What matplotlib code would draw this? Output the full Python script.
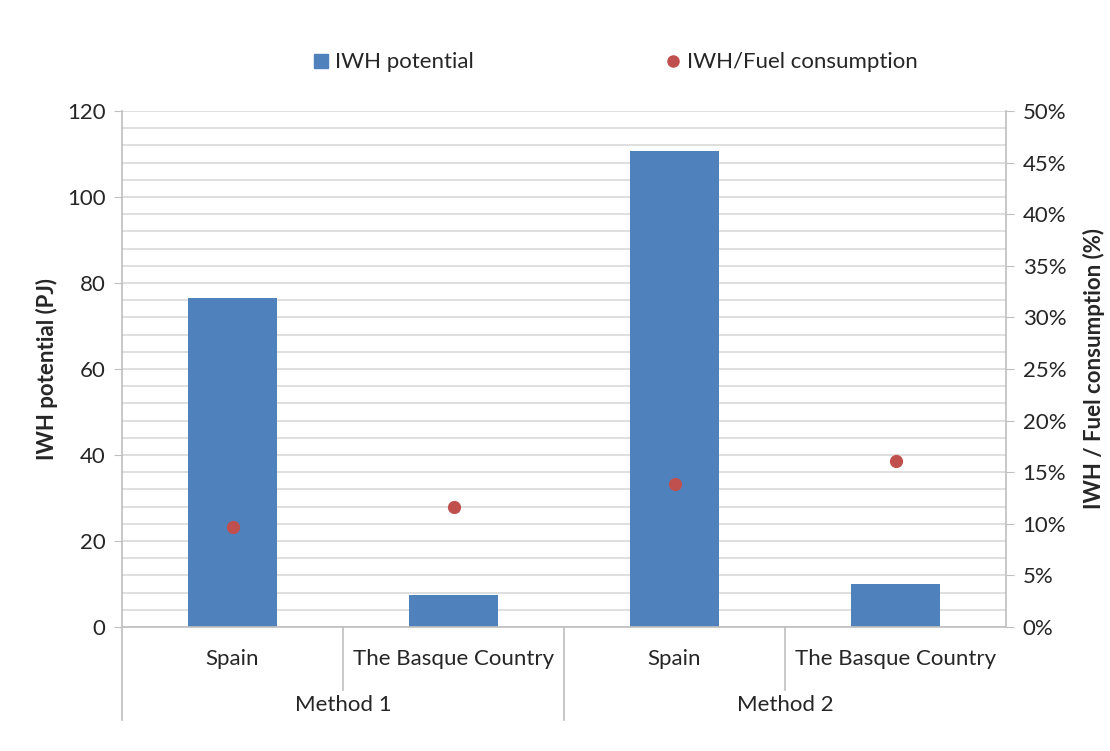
import matplotlib
matplotlib.use("Agg")
import matplotlib.pyplot as plt
import numpy as np
from matplotlib.lines import Line2D
from matplotlib.ticker import PercentFormatter
import matplotlib.transforms as mtransforms

categories = ["Spain", "The Basque Country", "Spain", "The Basque Country"]
groups = ["Method 1", "Method 2"]
iwh_potential = [76.4, 7.4, 110.7, 10.0]          # PJ
iwh_fuel_ratio = [0.097, 0.116, 0.139, 0.161]      # fraction

plt.rcParams['font.family'] = ['Lato', 'DejaVu Sans']
TXT = "#262626"
GRID = "#D9D9D9"
AX = "#BFBFBF"
BAR = "#4F81BD"
DOT = "#C0504D"
FS = 16

fig = plt.figure(figsize=(11.1, 7.51), dpi=100)
ax = fig.add_axes([122/1110, 1-627/751, 884/1110, 516/751])
x = np.arange(len(categories))
ax.bar(x, iwh_potential, width=0.4, color=BAR, zorder=2)
ax.set_xlim(-0.5, len(categories)-0.5)
ax.set_ylim(0, 120)
ax.set_yticks(np.arange(0, 121, 20))
ax.set_yticks(np.arange(0, 121, 4), minor=True)
ax.grid(True, which='both', axis='y', color=GRID, linewidth=1.2)
ax.set_axisbelow(True)
ax.tick_params(axis='y', which='major', length=6, color=AX, labelsize=FS, labelcolor=TXT, pad=6)
ax.tick_params(axis='y', which='minor', length=0)
ax.set_xticks([])
for s in ['top', 'right']:
    ax.spines[s].set_visible(False)
for s in ['left', 'bottom']:
    ax.spines[s].set_color(AX)
    ax.spines[s].set_linewidth(1.2)
ax.set_ylabel("IWH potential (PJ)", fontsize=FS, fontweight='bold', color=TXT, labelpad=6)

ax2 = ax.twinx()
ax2.plot(x, iwh_fuel_ratio, 'o', color=DOT, markersize=8.5, zorder=3, clip_on=False)
ax2.set_ylim(0, 0.5)
ax2.set_yticks(np.arange(0, 0.501, 0.05))
ax2.yaxis.set_major_formatter(PercentFormatter(1.0, decimals=0))
ax2.tick_params(axis='y', length=6, color=AX, labelsize=FS, labelcolor=TXT, pad=6)
for s in ['top', 'left', 'bottom']:
    ax2.spines[s].set_visible(False)
ax2.spines['right'].set_color(AX)
ax2.spines['right'].set_linewidth(1.2)
ax2.set_ylabel("IWH / Fuel consumption (%)", fontsize=FS, fontweight='bold', color=TXT, labelpad=12)

# Hierarchical category axis
trans = mtransforms.blended_transform_factory(ax.transData, ax.transAxes)
for i, c in enumerate(categories):
    ax.text(i, -0.062, c, transform=trans, ha='center', va='center', fontsize=FS, color=TXT)
for g_i, g in enumerate(groups):
    ax.text(2*g_i + 0.5, -0.151, g, transform=trans, ha='center', va='center', fontsize=FS, color=TXT)
for xs in [0.5, 2.5]:
    ax.plot([xs, xs], [0, -0.122], transform=trans, color=AX, lw=1.2, clip_on=False)
for xs in [-0.5, 1.5]:
    ax.plot([xs, xs], [0, -0.180], transform=trans, color=AX, lw=1.2, clip_on=False)

handles = [Line2D([], [], marker='s', color=BAR, linestyle='none', markersize=10),
           Line2D([], [], marker='o', color=DOT, linestyle='none', markersize=8)]
fig.legend(handles, ["IWH potential", "IWH/Fuel consumption"], loc='center',
           bbox_to_anchor=(0.553, 0.917), ncol=2, frameon=False, fontsize=FS,
           columnspacing=8.5, handletextpad=0.1, handlelength=1.0, labelcolor=TXT)

fig.savefig("out.png", dpi=100, facecolor='white')
